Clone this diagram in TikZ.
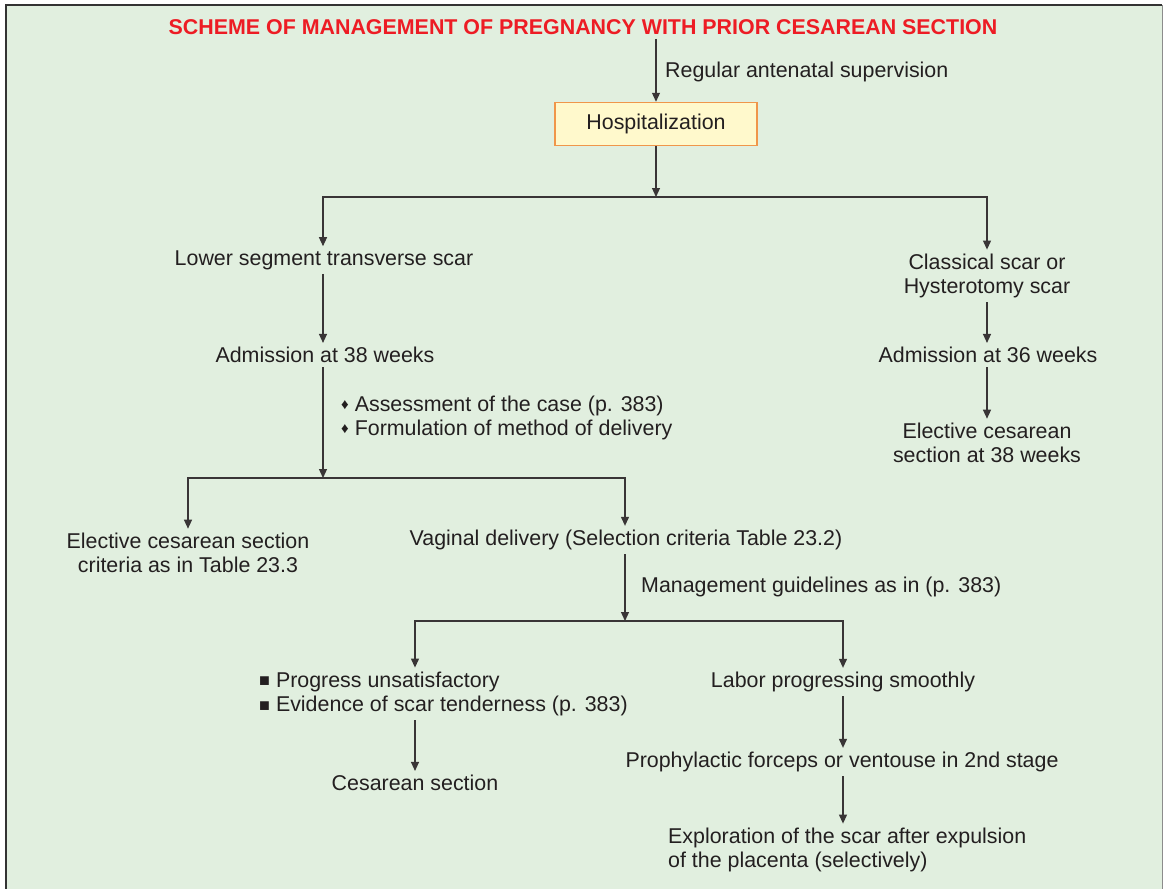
\documentclass[tikz,border=0pt]{standalone}
\usepackage{fontspec}
\setmainfont{Liberation Sans}
\usetikzlibrary{arrows.meta}
\definecolor{panel}{HTML}{E1EFDF}
\definecolor{ink}{HTML}{231F20}
\definecolor{headred}{HTML}{ED1C24}
\definecolor{hospfill}{HTML}{FFF9CC}
\definecolor{hospedge}{HTML}{F0964A}

\begin{document}
\begin{tikzpicture}[x=1pt,y=-1pt,
    txt/.style={font=\fontsize{21.4}{24.5}\selectfont, text=ink, inner sep=4pt, align=center},
    lefttxt/.style={txt, align=left, anchor=west},
    hospbox/.style={txt, draw=hospedge, fill=hospfill, line width=1.5pt,
        minimum width=202pt, minimum height=43pt},
    arr/.style={draw=ink!90, line width=1.2pt, -{Triangle[length=9pt,width=8pt]}}]
    \useasboundingbox (0,0) rectangle (1163,889);
    \fill[panel] (6,5) rectangle (1162,889);
    \draw[black!80, line width=2.5pt] (6,889) -- (6,5) -- (1162,5);
    \draw[black!45, line width=1pt] (1162,5) -- (1162,889);

    \node[txt, text=headred, font=\bfseries\fontsize{21.4}{24.5}\selectfont] (title) at (583,27)
        {SCHEME OF MANAGEMENT OF PREGNANCY WITH PRIOR CESAREAN SECTION};
    \node[lefttxt] (regular) at (661,72) {Regular antenatal supervision};
    \node[hospbox] (hosp) at (656,124) {Hospitalization};

    \node[txt] (lss) at (324,260) {Lower segment transverse scar};
    \node[txt] (cls) at (987,276) {Classical scar or\\Hysterotomy scar};
    \node[txt] (adm38) at (325,355) {Admission at 38 weeks};
    \node[txt] (adm36) at (988,355) {Admission at 36 weeks};
    \node[txt] (ecs38) at (987,443) {Elective cesarean\\section at 38 weeks};
    \node[lefttxt] (assess) at (337,418)
        {\raisebox{2pt}{\fontsize{15}{15}\selectfont ♦} Assessment of the case (p. 383)\\
         \raisebox{2pt}{\fontsize{15}{15}\selectfont ♦} Formulation of method of delivery};

    \node[txt] (ecs) at (188,553) {Elective cesarean section\\criteria as in Table 23.3};
    \node[txt] (vag) at (626,540) {Vaginal delivery (Selection criteria Table 23.2)};
    \node[lefttxt] (guide) at (637,587) {Management guidelines as in (p. 383)};

    \node[lefttxt] (prog) at (255,694)
        {\raisebox{0.5pt}{\fontsize{18}{18}\selectfont ■} Progress unsatisfactory\\
         \raisebox{0.5pt}{\fontsize{18}{18}\selectfont ■} Evidence of scar tenderness (p. 383)};
    \node[txt] (ces) at (415,783) {Cesarean section};
    \node[txt] (labor) at (843,682) {Labor progressing smoothly};
    \node[txt] (proph) at (842,762) {Prophylactic forceps or ventouse in 2nd stage};
    \node[lefttxt] (expl) at (664,850) {Exploration of the scar after expulsion\\of the placenta (selectively)};

    \coordinate (j1) at (656,197);
    \coordinate (j2) at (323,478);
    \coordinate (j3) at (625,621);
    \coordinate (j4) at (843,621);

    \draw[arr] (hosp.north |- title.south) -- (hosp.north);
    \draw[arr] (hosp) -- (j1);
    \draw[arr] (j1) -| (lss.north -| j2);
    \draw[arr] (j1) -| (cls);
    \draw[arr] (lss.south -| j2) -- (j2 |- adm38.north);
    \draw[arr] (cls.south) -- (cls |- adm36.north);
    \draw[arr] (adm36.south -| cls) -- (cls |- ecs38.north);
    \draw[arr] (adm38.south -| j2) -- (j2);
    \draw[arr] (j2) -| (ecs);
    \draw[arr] (j2) -| (vag.north -| j3);
    \draw[arr] (vag.south -| j3) -- (j3);
    \draw[arr] (j3) -| (ces |- prog.north);
    \draw[arr] (j3) -- (j4) -- (j4 |- labor.north);
    \draw[arr] (prog.south -| ces) -- (ces);
    \draw[arr] (labor.south -| j4) -- (j4 |- proph.north);
    \draw[arr] (proph.south -| j4) -- (j4 |- expl.north);
\end{tikzpicture}
\end{document}
